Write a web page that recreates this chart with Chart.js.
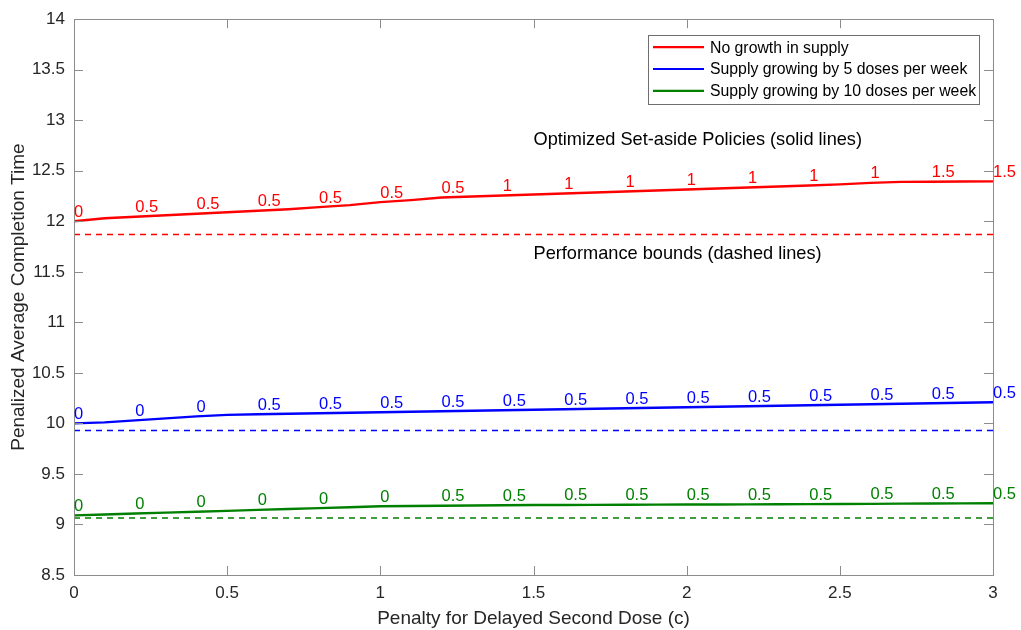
<!DOCTYPE html>
<html>
<head>
<meta charset="utf-8">
<script src="https://cdn.jsdelivr.net/npm/chart.js@4.4.1/dist/chart.umd.min.js"></script>
<style>
	body { margin: 0; background: #fff; }
	canvas { display: block; }
</style>
</head>
<body>
<canvas id="myChart" width="1021" height="630"></canvas>
<script>
// penalty c
const xs = [0, 0.1, 0.2, 0.3, 0.4, 0.5, 0.6, 0.7, 0.8, 0.9, 1.0, 1.1, 1.2, 1.3, 1.4, 1.5,
	1.6, 1.7, 1.8, 1.9, 2.0, 2.1, 2.2, 2.3, 2.4, 2.5, 2.6, 2.7, 2.8, 2.9, 3.0];

// optimized set-aside policies (solid)
const noGrowth = [12.00, 12.03, 12.045, 12.06, 12.075, 12.09, 12.105, 12.12, 12.14, 12.16, 12.19,
	12.21, 12.235, 12.245, 12.255, 12.265, 12.275, 12.285, 12.295, 12.305, 12.315,
	12.325, 12.335, 12.345, 12.355, 12.365, 12.38, 12.39, 12.392, 12.394, 12.395];
const growth5 = [10.00, 10.01, 10.03, 10.05, 10.07, 10.085, 10.09, 10.095, 10.10, 10.105, 10.11,
	10.115, 10.12, 10.125, 10.13, 10.135, 10.14, 10.145, 10.15, 10.155, 10.16,
	10.165, 10.17, 10.175, 10.18, 10.185, 10.19, 10.195, 10.20, 10.205, 10.21];
const growth10 = [9.09, 9.099, 9.108, 9.117, 9.126, 9.135, 9.144, 9.153, 9.162, 9.171, 9.18,
	9.183, 9.186, 9.188, 9.19, 9.192, 9.193, 9.194, 9.195, 9.196, 9.197,
	9.198, 9.199, 9.2, 9.201, 9.202, 9.204, 9.206, 9.208, 9.209, 9.21];

// performance bounds (dashed)
const boundX = [0, 3];
const noGrowthBound = [11.87, 11.87];
const growth5Bound = [9.93, 9.93];
const growth10Bound = [9.065, 9.065];

// set-aside labels written next to the lines
const labelX = [0, 0.2, 0.4, 0.6, 0.8, 1.0, 1.2, 1.4, 1.6, 1.8, 2.0, 2.2, 2.4, 2.6, 2.8, 3.0];
const noGrowthLabels = ['0', '0.5', '0.5', '0.5', '0.5', '0.5', '0.5', '1', '1', '1', '1', '1', '1', '1', '1.5', '1.5'];
const growth5Labels = ['0', '0', '0', '0.5', '0.5', '0.5', '0.5', '0.5', '0.5', '0.5', '0.5', '0.5', '0.5', '0.5', '0.5', '0.5'];
const growth10Labels = ['0', '0', '0', '0', '0', '0', '0.5', '0.5', '0.5', '0.5', '0.5', '0.5', '0.5', '0.5', '0.5', '0.5'];

const xTicks = [0, 0.5, 1, 1.5, 2, 2.5, 3];
const yTicks = [8.5, 9, 9.5, 10, 10.5, 11, 11.5, 12, 12.5, 13, 13.5, 14];

const notes = [
	{ x: 1.5, y: 12.805, text: 'Optimized Set-aside Policies (solid lines)' },
	{ x: 1.5, y: 11.68, text: 'Performance bounds (dashed lines)' }
];

const FONT = '"Liberation Sans", Arial, Helvetica, sans-serif';
const AXIS_GRAY = '#8c8c8c';
const TEXT = '#262626';
const LABEL_OFFSET = 0.09;

const pts = (xv, yv) => xv.map((x, i) => ({ x: x, y: yv[i] }));

const solid = (label, values, color, labels) => ({
	label: label,
	data: pts(xs, values),
	borderColor: color,
	backgroundColor: color,
	borderWidth: 2.4,
	pointRadius: 0,
	tension: 0,
	inLegend: true,
	pointLabels: labels
});
const dashed = (values, color) => ({
	label: '',
	data: pts(boundX, values),
	borderColor: color,
	borderWidth: 1.5,
	borderDash: [6, 5],
	pointRadius: 0,
	inLegend: false
});

// box with inward ticks on all four sides, matlab style
const boxPlugin = {
	id: 'box',
	afterDatasetsDraw(chart) {
		const { ctx, chartArea: a, scales } = chart;
		const tl = 9;
		ctx.save();
		ctx.strokeStyle = AXIS_GRAY;
		ctx.lineWidth = 1;
		ctx.strokeRect(Math.round(a.left) + 0.5, Math.round(a.top) + 0.5,
			Math.round(a.right - a.left), Math.round(a.bottom - a.top));
		ctx.beginPath();
		xTicks.forEach(v => {
			const px = Math.round(scales.x.getPixelForValue(v)) + 0.5;
			ctx.moveTo(px, a.bottom); ctx.lineTo(px, a.bottom - tl);
			ctx.moveTo(px, a.top); ctx.lineTo(px, a.top + tl);
		});
		yTicks.forEach(v => {
			const py = Math.round(scales.y.getPixelForValue(v)) + 0.5;
			ctx.moveTo(a.left, py); ctx.lineTo(a.left + tl, py);
			ctx.moveTo(a.right, py); ctx.lineTo(a.right - tl, py);
		});
		ctx.stroke();
		ctx.restore();
	}
};

// numbers above the solid lines + the two notes
const textPlugin = {
	id: 'texts',
	afterDatasetsDraw(chart) {
		const { ctx, scales } = chart;
		ctx.save();
		ctx.textAlign = 'left';
		ctx.textBaseline = 'middle';
		ctx.font = '16.5px ' + FONT;
		chart.data.datasets.forEach(ds => {
			if (!ds.pointLabels) return;
			ctx.fillStyle = ds.borderColor;
			labelX.forEach((x, i) => {
				const p = ds.data.find(d => Math.abs(d.x - x) < 1e-9);
				ctx.fillText(ds.pointLabels[i], scales.x.getPixelForValue(x), scales.y.getPixelForValue(p.y + LABEL_OFFSET));
			});
		});
		ctx.fillStyle = '#000';
		ctx.font = '18.2px ' + FONT;
		notes.forEach(n => {
			ctx.fillText(n.text, scales.x.getPixelForValue(n.x), scales.y.getPixelForValue(n.y));
		});
		ctx.restore();
	}
};

// legend box in the upper right corner
const legendPlugin = {
	id: 'boxLegend',
	afterDraw(chart) {
		const { ctx, chartArea: a } = chart;
		const items = chart.data.datasets.filter(d => d.inLegend);
		const w = 331, h = 69;
		const left = a.right - 14 - w, top = a.top + 16;
		ctx.save();
		ctx.fillStyle = '#fff';
		ctx.fillRect(left, top, w, h);
		ctx.strokeStyle = '#6e6e6e';
		ctx.lineWidth = 1;
		ctx.strokeRect(Math.round(left) + 0.5, Math.round(top) + 0.5, w, h);
		ctx.font = '15.8px ' + FONT;
		ctx.textBaseline = 'middle';
		ctx.textAlign = 'left';
		items.forEach((d, i) => {
			const y = top + 12 + i * 21.8;
			ctx.strokeStyle = d.borderColor;
			ctx.lineWidth = 2.2;
			ctx.beginPath();
			ctx.moveTo(left + 5, y);
			ctx.lineTo(left + 56, y);
			ctx.stroke();
			ctx.fillStyle = '#000';
			ctx.fillText(d.label, left + 62, y + 1);
		});
		ctx.restore();
	}
};

const ctx = document.getElementById('myChart');

const myChart = new Chart(ctx, {
	type: 'line',
	data: {
		datasets: [
			solid('No growth in supply', noGrowth, '#ff0000', noGrowthLabels),
			solid('Supply growing by 5 doses per week', growth5, '#0000ff', growth5Labels),
			solid('Supply growing by 10 doses per week', growth10, '#008000', growth10Labels),
			dashed(noGrowthBound, '#ff0000'),
			dashed(growth5Bound, '#0000ff'),
			dashed(growth10Bound, '#008000')
		]
	},
	options: {
		responsive: false,
		animation: false,
		devicePixelRatio: 1,
		layout: { padding: { left: 0, right: 28, top: 13, bottom: 0 } },
		plugins: {
			legend: { display: false },
			tooltip: { enabled: false }
		},
		scales: {
			x: {
				type: 'linear',
				min: 0,
				max: 3,
				afterBuildTicks: s => { s.ticks = xTicks.map(v => ({ value: v })); },
				ticks: {
					font: { family: FONT, size: 17 }, color: TEXT, padding: 8, maxRotation: 0,
					callback: v => String(v)
				},
				grid: { display: false, drawTicks: false },
				border: { display: false },
				title: {
					display: true,
					text: 'Penalty for Delayed Second Dose (c)',
					font: { family: FONT, size: 19 },
					color: TEXT,
					padding: { top: 0, bottom: 0 }
				},
				afterFit: s => { s.height = 55; }
			},
			y: {
				min: 8.5,
				max: 14,
				afterBuildTicks: s => { s.ticks = yTicks.map(v => ({ value: v })); },
				ticks: {
					font: { family: FONT, size: 17 }, color: TEXT, padding: 9,
					callback: v => String(v)
				},
				grid: { display: false, drawTicks: false },
				border: { display: false },
				title: {
					display: true,
					text: 'Penalized Average Completion Time',
					font: { family: FONT, size: 19 },
					color: TEXT,
					padding: { top: 7, bottom: 0 }
				},
				afterFit: s => { s.width = 74; }
			}
		}
	},
	plugins: [boxPlugin, textPlugin, legendPlugin]
});
</script>
</body>
</html>
